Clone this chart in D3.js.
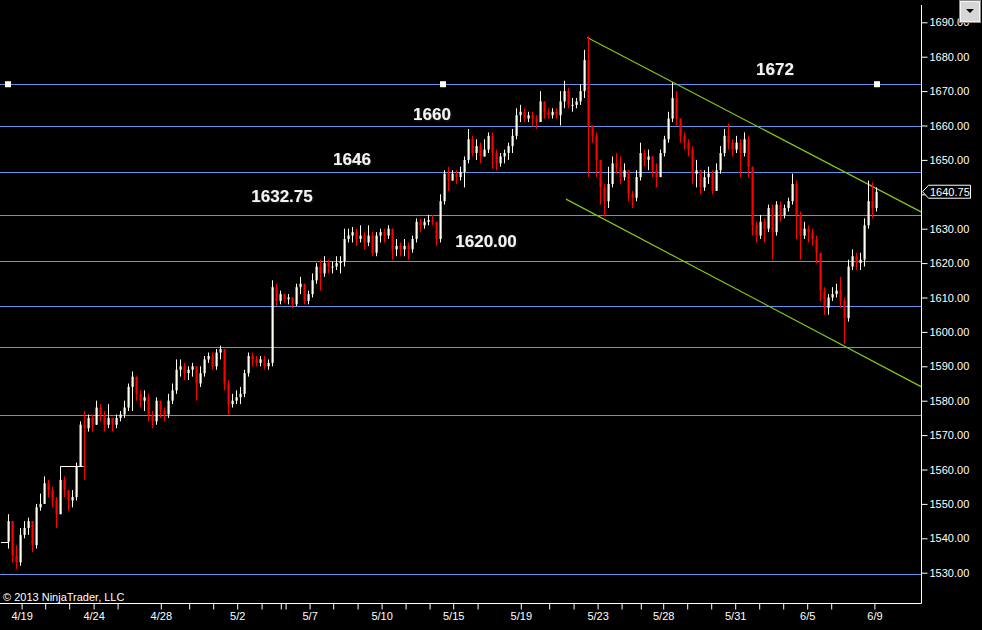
<!DOCTYPE html>
<html><head><meta charset="utf-8">
<script src="https://cdn.jsdelivr.net/npm/d3@7"></script>
<style>html,body{margin:0;padding:0;background:#000;overflow:hidden}svg{display:block}</style>
</head><body><svg id="c" width="982" height="630"></svg>
<script>
// ---- data ----
const firstOpen = 1539;
const closes = [
1545,1535,1533,1541,1543,1545,1538,1549,1550,1556,
1554,1551,1547,1557,1554,1551,1552,1561,1573,1572,
1575,1573,1578,1576,1573,1575,1573,1575,1576,1578,
1584,1587,1582,1580,1581,1576,1574,1580,1577,1576,
1580,1583,1589,1590,1588,1589,1590,1585,1588,1592,
1593,1590,1594,1595,1585,1579,1580,1581,1582,1588,
1593,1592,1591,1592,1590,1591,1613,1609,1611,1609.5,
1610,1608,1613,1614,1609,1611,1615,1619,1617,1620,
1619,1619,1620,1620.5,1627,1628,1629,1627,1628,1626,
1628,1623,1628,1629,1628,1630,1624,1625,1624,1625,
1624,1627,1632,1631,1632,1632.5,1632,1627,1638,1646,
1644,1646,1645,1646.5,1650,1656,1652,1654,1651,1653,
1657,1652,1649,1651,1652,1654,1657,1663,1664,1662,
1663,1662,1661,1667,1664,1663,1664,1663,1667,1670,
1666,1666,1667,1670,1679,1660,1657,1650,1642,1638,
1643,1649,1648,1645,1647,1640,1639,1645,1652,1650,
1651,1647,1645,1652,1656,1662,1668,1662,1657,1655,
1653,1646,1647,1642,1645,1646,1641,1647,1652,1657,
1655,1653,1655,1652,1656,1648,1631,1628,1632,1630,
1636,1629,1637,1634,1636,1638,1643,1634,1628,1630,
1629,1627,1623,1612,1607,1610,1611,1612,1609,1604,
1619,1622,1620,1621,1631,1638,1636,1640.75];
const highs = [
1547,1545,1538,1543,1545,1546,1545,1550,1553,1558,
1557,1555,1552,1558,1558,1554,1554,1562,1574,1577,
1576,1576,1580,1579,1577,1579,1575,1576,1577,1580,
1585,1588.5,1587,1583,1583,1582,1577,1581,1580,1578,
1582,1585,1592,1592,1591,1590,1591,1590,1590,1593,
1594,1594,1595,1596,1595,1586,1582,1583,1584,1589,
1594,1594,1593,1593,1593,1592,1615,1614,1612,1611,
1611,1610,1614,1616,1614,1612,1617,1620,1621,1622,
1621,1620.5,1622,1622,1630,1630,1630.5,1630,1631,1629,
1631,1629,1629,1630,1630,1631,1630,1627,1626,1627,
1626,1628,1633,1633,1633,1634,1634,1632,1640,1647,
1648,1647,1647,1648,1651,1659,1657,1656,1655,1656,
1658,1658,1653,1652,1653,1655,1659,1665,1666,1665,
1664,1664,1663,1670,1667,1665,1665,1665,1670,1673,
1671,1668,1668,1672,1682,1686,1660,1658,1650,1643,
1648,1651,1652,1651,1649,1647,1641,1647,1655,1653,
1653,1651,1649,1653,1657,1664,1672.5,1670,1662,1658,
1656,1654,1650,1647,1647,1648,1647,1649,1654,1659,
1660.5,1656,1657,1656,1658,1657,1648,1632,1634,1633,
1637,1637,1638,1638,1637,1639,1646,1644,1635,1632,
1631,1630,1628,1623,1613,1611,1613,1614,1616,1610,
1621,1624,1623,1623,1633,1644,1643.5,1642];
const lows = [
1537,1533,1531,1532,1540,1541,1536,1537,1548,1550,
1552,1549,1543,1547,1552,1548,1549,1551,1561,1557,
1571,1571,1573,1574,1571,1572,1571,1572,1574,1575,
1577,1577,1580,1578,1577,1574,1572,1573,1575,1574,
1575,1579,1582,1587,1586,1586,1587,1580,1584,1587,
1591,1589,1589,1592,1583,1576,1578,1579,1579,1581,
1587,1590,1590,1590,1589,1589,1590,1607.5,1608,1608.5,
1608,1607,1607.5,1611,1608,1608,1610,1614,1612,1616,
1617,1617,1618,1617,1619,1626,1626,1625,1626,1624,
1625,1622,1622,1626,1626,1627,1621,1622,1622,1622,
1621,1623,1626,1629,1630,1631,1631,1625,1626,1637,
1641,1644,1643,1644,1642,1649,1651,1650,1649,1651,
1652,1647.5,1647,1648,1649,1650,1652,1656,1661,1661,
1661,1660,1659,1661,1662,1662,1662,1662,1660,1665,
1665,1664,1665,1666,1668,1645,1655,1645,1637,1633.5,
1636,1642,1646,1643,1644,1638,1636,1638,1644,1648,
1647,1645,1642,1646,1651,1655,1661,1660,1655,1653,
1651,1643,1642,1640,1641,1643,1640,1641,1646,1651,
1653,1651,1652,1645,1651,1645,1628,1626,1627,1626,
1629,1621,1628,1632,1633,1635,1637,1627,1621,1627,
1626,1625,1620,1609,1605,1605,1609,1610,1607,1596.5,
1603,1618,1618,1618,1619,1630,1633,1635];

const levels = [1672, 1660, 1646.5, 1634, 1620.7, 1607.5, 1595.7, 1575.8, 1529.5];
const levelTexts = ["1672", "1660", "1646", "1632.75", "1620.00"];
const levelTextBar = [191.75, 106, 86, 68.5, 119.5];
const levelTextPrice = [1676.4, 1663.3, 1650.2, 1639.5, 1626.4];
const markerBars = [0, 108.75, 217.25];   // handles on the 1672 line
const markerPrice = 1672;
const channelUpper = [[144.8, 1685.6], [228.25, 1634.9]];
const channelLower = [[139.5, 1638.6], [228.25, 1584.1]];
const yTicks = [1530,1540,1550,1560,1570,1580,1590,1600,1610,1620,1630,1640,1650,1660,1670,1680,1690];
const xTickPos = [3.4,9.3,15.3,21.4,27.4,38.2,45.3,51.3,57.3,63.4,68.2,69.4,75.4,81.3,87.4,93.4,99.4,105.4,111.3,117.4,128.2,135.3,141.4,147.4,153.4,158.2,163.8,169.8,175.8,181.8,187.8,193.8,199.8,205.8,216.6];
const xTickLabels = ["4/19","","","4/24","","4/28","","","5/2","","","","5/7","","","5/10","","","5/15","","5/19","","","5/23","","","5/28","","","5/31","","","6/5","","6/9"];
const lastPrice = 1640.75;

// ---- drawing ----
const svg = d3.select("#c");
const W = 982, H = 630, axisX = 921.5, axisY = 603.5;
const x = d3.scaleLinear().domain([0, 217]).range([8, 876]);
const y = d3.scaleLinear().domain([1530, 1690]).range([572.7, 22.3]);
const FONT = "'Liberation Sans', Arial, sans-serif";

svg.append("rect").attr("width", W).attr("height", H).attr("fill", "#000");

const plot = svg.append("g");
plot.append("defs").append("clipPath").attr("id", "pc")
  .append("rect").attr("x", 0).attr("y", 0).attr("width", axisX).attr("height", axisY);

// horizontal levels
plot.selectAll("line.lvl").data(levels).join("line")
  .attr("x1", 0).attr("x2", axisX)
  .attr("y1", d => Math.round(y(d)) + 0.5).attr("y2", d => Math.round(y(d)) + 0.5)
  .attr("stroke", "#6492e8").attr("stroke-width", 1);

// channel lines
const cg = plot.append("g").attr("clip-path", "url(#pc)");
[channelUpper, channelLower].forEach(c => {
  cg.append("line")
    .attr("x1", x(c[0][0])).attr("y1", y(c[0][1]))
    .attr("x2", x(c[1][0])).attr("y2", y(c[1][1]))
    .attr("stroke", "#84c61a").attr("stroke-width", 1.2);
});

// small drawing objects (white)
plot.append("line").attr("x1", 1).attr("x2", x(0)).attr("y1", Math.round(y(firstOpen)) + 0.5).attr("y2", Math.round(y(firstOpen)) + 0.5)
  .attr("stroke", "#fff");
plot.append("polyline")
  .attr("points", [[x(13), y(1557)], [x(13), y(1561)], [x(18.7), y(1561)]].map(p => [Math.round(p[0]) + 0.5, Math.round(p[1]) + 0.5].join(",")).join(" "))
  .attr("fill", "none").attr("stroke", "#fff");

// candles
const bars = closes.map((c, i) => {
  const o = i === 0 ? firstOpen : closes[i - 1];
  return {i, o, c, h: Math.max(highs[i], o, c), l: Math.min(lows[i], o, c)};
});
const UP = "#fffff2", DN = "#ff0000";
const cgp = plot.append("g");
cgp.selectAll("line.wick").data(bars).join("line")
  .attr("x1", d => Math.round(x(d.i)) + 0.5).attr("x2", d => Math.round(x(d.i)) + 0.5)
  .attr("y1", d => y(d.h)).attr("y2", d => y(d.l))
  .attr("stroke", d => d.c >= d.o ? UP : DN).attr("stroke-width", 1);
cgp.selectAll("rect.body").data(bars).join("rect")
  .attr("x", d => Math.round(x(d.i)) - 0.5)
  .attr("width", 2.2)
  .attr("y", d => y(Math.max(d.o, d.c)))
  .attr("height", d => Math.max(1, Math.abs(y(d.o) - y(d.c))))
  .attr("fill", d => d.c >= d.o ? UP : DN);

// handles on 1672 line
plot.selectAll("rect.mk").data(markerBars).join("rect")
  .attr("x", d => x(d) - 3).attr("y", y(markerPrice) - 3)
  .attr("width", 6).attr("height", 6).attr("fill", "#fff");

// level labels
const lblData = levelTexts.map((t, k) => ({t, b: levelTextBar[k], p: levelTextPrice[k]}));
const defs = svg.append("defs");
const f = defs.append("filter").attr("id", "glow").attr("x", "-20%").attr("y", "-40%").attr("width", "140%").attr("height", "180%");
f.append("feDropShadow").attr("dx", 1).attr("dy", 1).attr("stdDeviation", 1.2).attr("flood-color", "#222").attr("flood-opacity", 0.9);
plot.selectAll("text.lbl").data(lblData).join("text")
  .attr("x", d => x(d.b)).attr("y", d => y(d.p))
  .attr("text-anchor", "middle").attr("dominant-baseline", "central")
  .attr("font-family", FONT).attr("font-weight", "bold").attr("font-size", 17)
  .attr("fill", "#f4f4f4").attr("filter", "url(#glow)")
  .text(d => d.t);

// copyright
svg.append("text").attr("x", 3).attr("y", 600.5)
  .attr("font-family", FONT).attr("font-size", 11).attr("fill", "#fff")
  .text("© 2013 NinjaTrader, LLC");

// axes
const yAxis = d3.axisRight(y).tickValues(yTicks)
  .tickFormat(d => Math.abs(d - lastPrice) < 5 ? "" : d3.format(".2f")(d)) // label hidden under the last-price tag
  .tickSize(6).tickSizeOuter(0).tickPadding(2);
const ya = svg.append("g").attr("transform", `translate(${axisX},0)`).call(yAxis);
ya.select(".domain").remove();
ya.selectAll("line").attr("stroke", "#fff");
ya.selectAll("text").attr("fill", "#fff").attr("font-family", FONT).attr("font-size", 11);

const xAxis = d3.axisBottom(x).tickValues(xTickPos).tickFormat((d, k) => xTickLabels[k]).tickSize(6).tickSizeOuter(0).tickPadding(3);
const xa = svg.append("g").attr("transform", `translate(0,${axisY})`).call(xAxis);
xa.select(".domain").remove();
xa.selectAll("line").attr("stroke", "#fff");
xa.selectAll("text").attr("fill", "#fff").attr("font-family", FONT).attr("font-size", 11);

svg.append("line").attr("x1", axisX).attr("x2", axisX).attr("y1", 5).attr("y2", axisY).attr("stroke", "#fff");
svg.append("line").attr("x1", 0).attr("x2", axisX).attr("y1", axisY).attr("y2", axisY).attr("stroke", "#fff");

// last price tag
const ly = y(lastPrice);
svg.append("polygon")
  .attr("points", [[axisX + 1, ly], [axisX + 7, ly - 6.5], [970.5, ly - 6.5], [970.5, ly + 6.5], [axisX + 7, ly + 6.5]].map(p => p.join(",")).join(" "))
  .attr("fill", "#000").attr("stroke", "#fff").attr("stroke-width", 1);
svg.append("text").attr("x", 930).attr("y", ly + 4)
  .attr("font-family", FONT).attr("font-size", 11).attr("fill", "#fff")
  .text(d3.format(".2f")(lastPrice));

// dropdown button
const bt = svg.append("g");
bt.append("rect").attr("x", 959.5).attr("y", 0.5).attr("width", 21).attr("height", 22)
  .attr("fill", "#d6d6d6").attr("stroke", "#8a8a8a");
bt.append("rect").attr("x", 960.5).attr("y", 1.5).attr("width", 19).attr("height", 20)
  .attr("fill", "none").attr("stroke", "#f4f4f4");
bt.append("polygon").attr("points", "966,9 974,9 970,13").attr("fill", "#000");
</script>
</body></html>
